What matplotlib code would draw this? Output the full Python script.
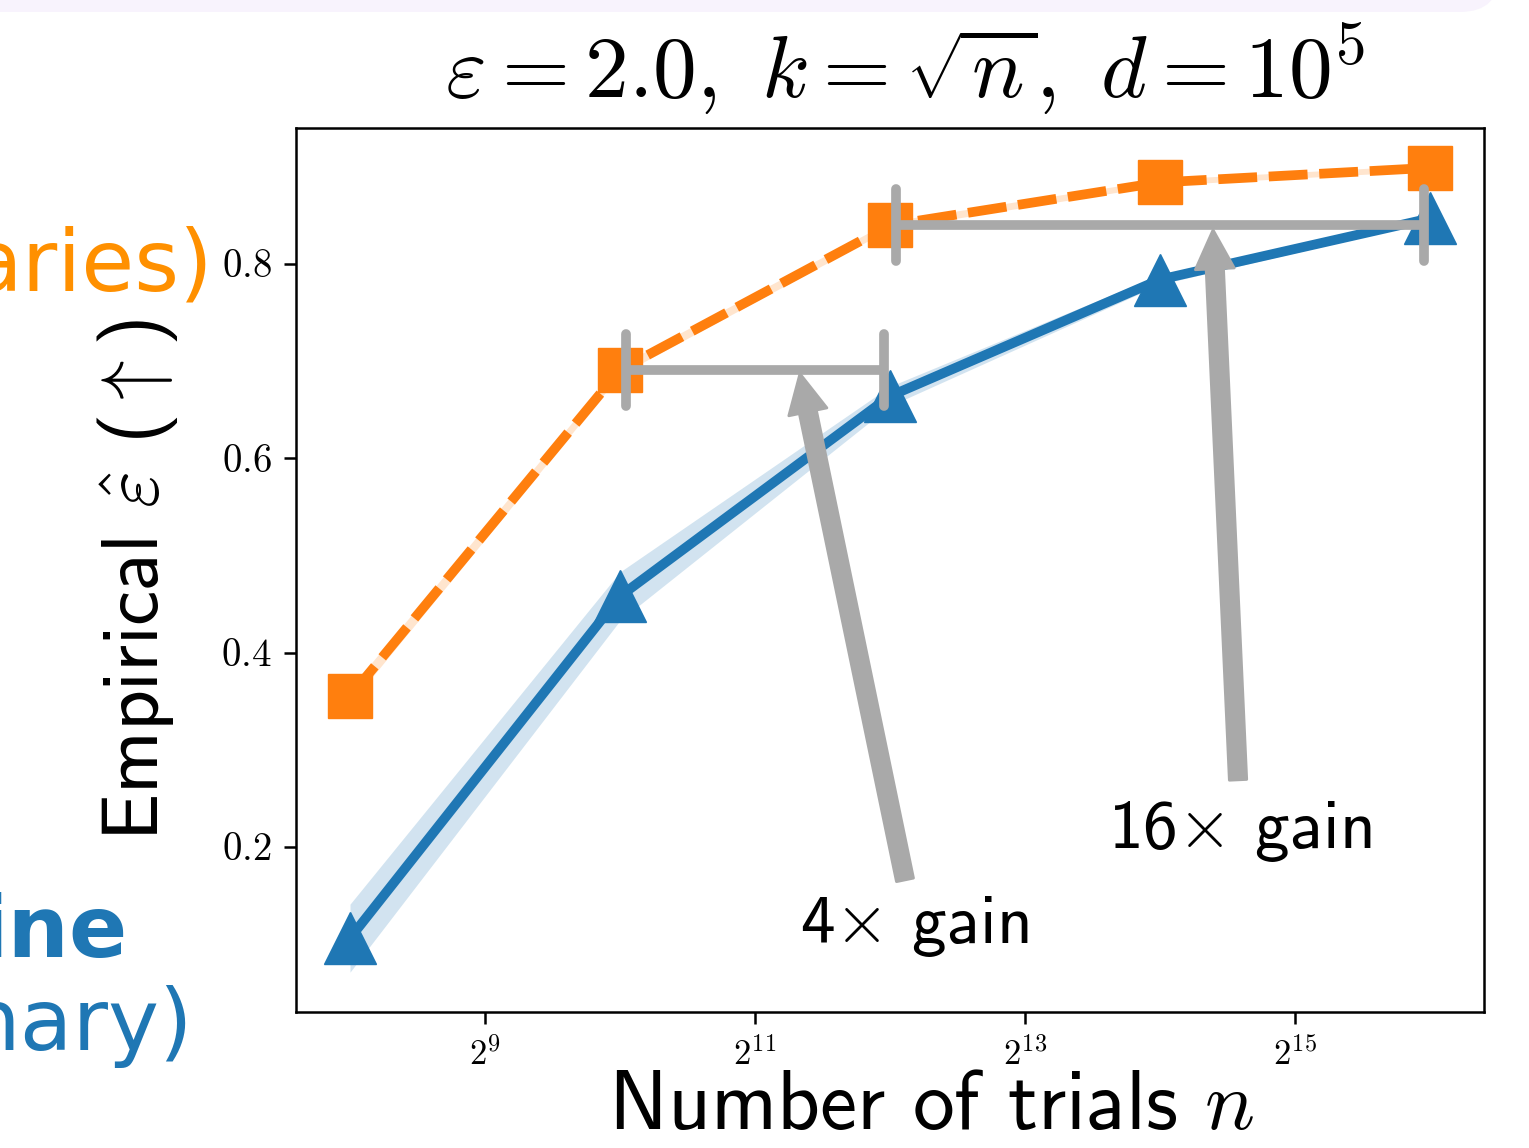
import numpy as np
import matplotlib
matplotlib.use("Agg")
import matplotlib.pyplot as plt
from matplotlib.patches import FancyBboxPatch

plt.rcParams['mathtext.fontset'] = 'cm'
plt.rcParams['font.family'] = ['cmss10', 'DejaVu Sans']
plt.rcParams['axes.unicode_minus'] = False

# data
trials = [2**8, 2**10, 2**12, 2**14, 2**16]
ours_mean = [0.355, 0.691, 0.840, 0.884, 0.899]
ours_std = [0.008, 0.005, 0.004, 0.003, 0.003]
base_mean = [0.106, 0.458, 0.664, 0.784, 0.847]
base_std = [0.035, 0.025, 0.010, 0.005, 0.003]

yticks = [0.2, 0.4, 0.6, 0.8]
xticks = [2**9, 2**11, 2**13, 2**15]
xtick_labels = ['$2^{9}$', '$2^{11}$', '$2^{13}$', '$2^{15}$']

orange = '#FF7F0E'
blue = '#1F77B4'
gray = '#A9A9A9'

fig = plt.figure(figsize=(15.29, 11.48), dpi=100)
ax = fig.add_axes([296/1529, 136/1148, 1188/1529, 884/1148])

# bands + lines
ours_mean = np.array(ours_mean)
base_mean = np.array(base_mean)
ax.fill_between(trials, ours_mean - ours_std, ours_mean + ours_std,
                color=orange, alpha=0.2, lw=0)
ax.fill_between(trials, base_mean - base_std, base_mean + base_std,
                color=blue, alpha=0.2, lw=0)
ax.plot(trials, base_mean, color=blue, lw=7, marker='^', ms=38,
        solid_capstyle='butt')
ax.plot(trials, ours_mean, color=orange, lw=7, marker='s', ms=32,
        linestyle='--', dashes=(4, 1.2))

# gain bars (from one orange point to where blue reaches it)
inset = 2**0.045
cap = 0.037
for i0, i1 in [(1, 2), (2, 4)]:
    x0 = trials[i0] * inset
    x1 = trials[i1] / inset
    y = ours_mean[i0]
    ax.plot([x0, x1], [y, y], color=gray, lw=7, solid_capstyle='butt', zorder=4)
    for xx in (x0, x1):
        ax.plot([xx, xx], [y - cap, y + cap], color=gray, lw=7,
                solid_capstyle='round', zorder=4)

arrow_kw = dict(facecolor=gray, edgecolor=gray, width=12.5, headwidth=28,
                headlength=28, shrink=0, linewidth=2, joinstyle='round')
ax.annotate('', xy=(2**11.333, 0.687), xytext=(2**12.111, 0.166),
            arrowprops=arrow_kw, zorder=5)
ax.annotate('', xy=(2**14.393, 0.835), xytext=(2**14.578, 0.269),
            arrowprops=arrow_kw, zorder=5)

ax.text(2**11.333, 0.101, r'4$\times$ gain', fontsize=50, ha='left',
        va='baseline')
ax.text(2**13.615, 0.199, r'16$\times$ gain', fontsize=50, ha='left',
        va='baseline')

ax.set_xscale('log', base=2)
ax.set_xticks(xticks, labels=xtick_labels)
ax.xaxis.set_minor_locator(matplotlib.ticker.NullLocator())
ax.set_yticks(yticks, labels=['$%.1f$' % t for t in yticks])
ax.set_ylim(0.03, 0.94)
ax.tick_params(axis='y', labelsize=28, width=1.8, length=8.5, pad=9)
ax.tick_params(axis='x', labelsize=25, width=1.8, length=8.5, pad=10)
for sp in ax.spines.values():
    sp.set_linewidth(1.8)

ax.set_xlabel('Number of trials $n$', fontsize=60, va='top')
ax.xaxis.set_label_coords(0.535, -0.066)
ax.set_ylabel(r'Empirical $\hat{\varepsilon}$ ($\uparrow$)', fontsize=57)
ax.yaxis.set_label_coords(-0.098, 0.489)

ax.text(0.513, 1.034, r'$\varepsilon = 2.0,\ k = \sqrt{n},\ d = 10^5$',
        transform=ax.transAxes, fontsize=63, ha='center', va='baseline')

# pieces of the slide around the chart
band = FancyBboxPatch((-1.0, 11.36), 16.0, 1.5,
                      boxstyle='round,pad=0,rounding_size=0.4',
                      transform=fig.dpi_scale_trans, facecolor='#F8F3FD',
                      edgecolor='none', zorder=0)
fig.patches.append(band)
fig.text(213/1529, 1 - 291/1148, 'aries)', color='#FF9000', fontsize=62,
         family='DejaVu Sans', ha='right', va='baseline')
fig.text(128/1529, 1 - 957/1148, 'ine', color=blue, fontsize=62,
         family='DejaVu Sans', fontweight='bold', ha='right', va='baseline')
fig.text(193/1529, 1 - 1050/1148, 'nary)', color=blue, fontsize=62,
         family='DejaVu Sans', ha='right', va='baseline')

fig.savefig('out.png', dpi=100)
